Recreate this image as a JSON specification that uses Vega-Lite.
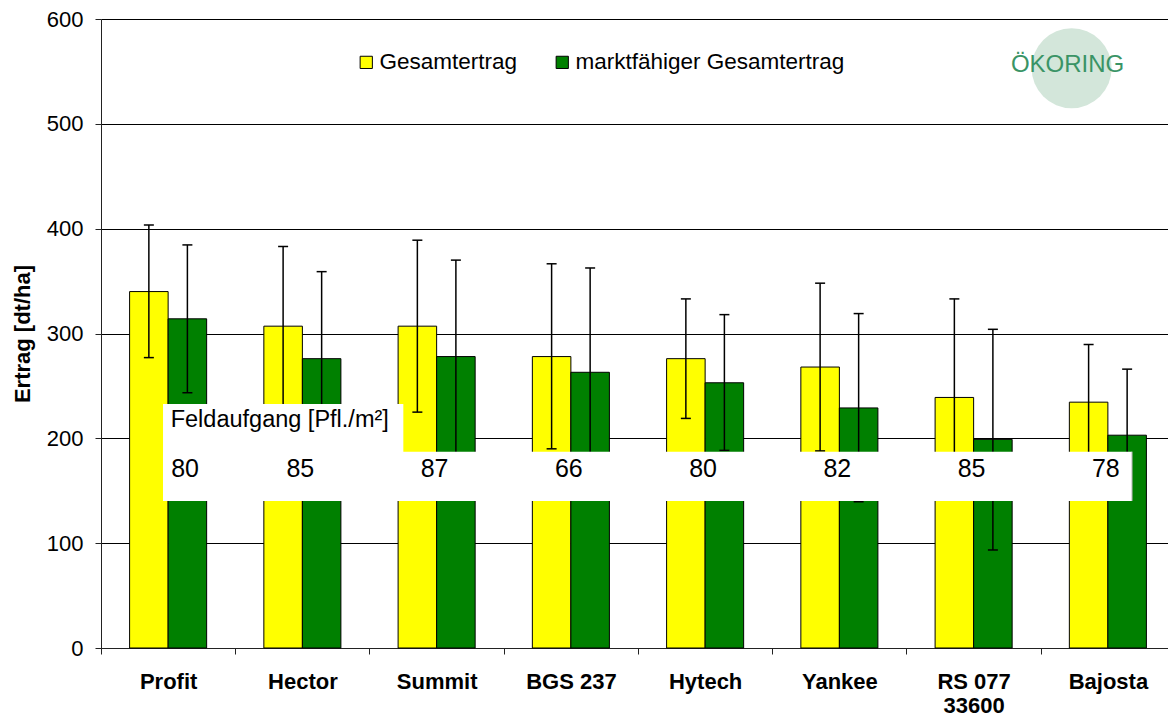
{
  "$schema": "https://vega.github.io/schema/vega-lite/v6.json",
  "autosize": {"type": "none"},
  "padding": {"left": 101, "top": 19, "right": 0, "bottom": 68},
  "width": 1067,
  "height": 629,
  "background": "white",
  "config": {
    "font": "Liberation Sans",
    "view": {"stroke": null},
    "axis": {"labelFont": "Liberation Sans", "titleFont": "Liberation Sans", "labelColor": "black", "titleColor": "black", "domainColor": "#222", "tickColor": "#222"},
    "legend": {"labelFont": "Liberation Sans"}
  },
  "datasets": {
    "ertrag": [
      {"sorte": "Profit", "serie": "Gesamtertrag", "wert": 340, "lo": 277, "hi": 403.5},
      {"sorte": "Profit", "serie": "marktfähiger Gesamtertrag", "wert": 314, "lo": 243.5, "hi": 384.5},
      {"sorte": "Hector", "serie": "Gesamtertrag", "wert": 307, "lo": 231, "hi": 383},
      {"sorte": "Hector", "serie": "marktfähiger Gesamtertrag", "wert": 276, "lo": 193, "hi": 359},
      {"sorte": "Summit", "serie": "Gesamtertrag", "wert": 307, "lo": 225, "hi": 389},
      {"sorte": "Summit", "serie": "marktfähiger Gesamtertrag", "wert": 278, "lo": 186, "hi": 370},
      {"sorte": "BGS 237", "serie": "Gesamtertrag", "wert": 278, "lo": 190, "hi": 366.5},
      {"sorte": "BGS 237", "serie": "marktfähiger Gesamtertrag", "wert": 263, "lo": 163, "hi": 362.5},
      {"sorte": "Hytech", "serie": "Gesamtertrag", "wert": 276, "lo": 219, "hi": 333},
      {"sorte": "Hytech", "serie": "marktfähiger Gesamtertrag", "wert": 253, "lo": 188.5, "hi": 318},
      {"sorte": "Yankee", "serie": "Gesamtertrag", "wert": 268, "lo": 188, "hi": 348},
      {"sorte": "Yankee", "serie": "marktfähiger Gesamtertrag", "wert": 229, "lo": 139.5, "hi": 319},
      {"sorte": "RS 077 33600", "serie": "Gesamtertrag", "wert": 239, "lo": 145, "hi": 333},
      {"sorte": "RS 077 33600", "serie": "marktfähiger Gesamtertrag", "wert": 199, "lo": 93.5, "hi": 304},
      {"sorte": "Bajosta", "serie": "Gesamtertrag", "wert": 234.5, "lo": 179.5, "hi": 289.5},
      {"sorte": "Bajosta", "serie": "marktfähiger Gesamtertrag", "wert": 203, "lo": 141, "hi": 266}
    ],
    "feld": [
      {"sorte": "Profit", "pflanzen": 80},
      {"sorte": "Hector", "pflanzen": 85},
      {"sorte": "Summit", "pflanzen": 87},
      {"sorte": "BGS 237", "pflanzen": 66},
      {"sorte": "Hytech", "pflanzen": 80},
      {"sorte": "Yankee", "pflanzen": 82},
      {"sorte": "RS 077 33600", "pflanzen": 85},
      {"sorte": "Bajosta", "pflanzen": 78}
    ],
    "eins": [{"a": 1}]
  },
  "resolve": {"scale": {"x": "independent"}, "axis": {"x": "independent", "y": "independent"}},
  "layer": [
    {
      "data": {"name": "ertrag"},
      "encoding": {
        "x": {
          "field": "sorte", "type": "nominal",
          "sort": ["Profit", "Hector", "Summit", "BGS 237", "Hytech", "Yankee", "RS 077 33600", "Bajosta"],
          "scale": {"type": "band", "paddingInner": 0.426, "paddingOuter": 0.213, "range": [0, 1074]},
          "axis": {
            "title": null, "labelAngle": 0, "labelFontSize": 22, "labelFontWeight": "bold",
            "tickSize": 6, "labelPadding": 17, "bandPosition": 0, "tickOffset": -28.6, "labelOffset": 28.6,
            "domainColor": "#222", "labelLineHeight": 24,
            "labelExpr": "datum.value === 'RS 077 33600' ? ['RS 077', '33600'] : datum.value"
          }
        },
        "xOffset": {"field": "serie", "type": "nominal", "sort": ["Gesamtertrag", "marktfähiger Gesamtertrag"]}
      },
      "layer": [
        {
          "mark": {"type": "bar", "stroke": "black", "strokeWidth": 1},
          "encoding": {
            "y": {
              "field": "wert", "type": "quantitative",
              "scale": {"domain": [0, 600], "nice": false},
              "axis": {
                "title": "Ertrag [dt/ha]", "titleFontSize": 22, "titleFontWeight": "bold", "titlePadding": 12,
                "values": [0, 100, 200, 300, 400, 500, 600], "labelFontSize": 22, "tickSize": 6, "labelPadding": 12,
                "grid": true, "gridColor": "black", "gridWidth": 1, "domainColor": "#222"
              }
            },
            "color": {
              "field": "serie", "type": "nominal",
              "scale": {"domain": ["Gesamtertrag", "marktfähiger Gesamtertrag"], "range": ["#FFFF00", "#008000"]},
              "legend": {
                "title": null, "orient": "none", "direction": "horizontal", "legendX": 254, "legendY": 32,
                "symbolType": "square", "symbolSize": 150, "symbolStrokeColor": "black", "symbolStrokeWidth": 1,
                "symbolOpacity": 1, "labelFontSize": 22.5, "labelOffset": 2, "columnPadding": 33, "padding": 0,
                "labelColor": "black", "labelLimit": 0
              }
            }
          }
        },
        {
          "mark": {"type": "rule", "color": "black", "strokeWidth": 1.5},
          "encoding": {
            "y": {"field": "lo", "type": "quantitative"},
            "y2": {"field": "hi"}
          }
        },
        {
          "mark": {"type": "tick", "orient": "horizontal", "color": "black", "size": 10, "thickness": 1.5, "opacity": 1},
          "encoding": {"y": {"field": "lo", "type": "quantitative"}}
        },
        {
          "mark": {"type": "tick", "orient": "horizontal", "color": "black", "size": 10, "thickness": 1.5, "opacity": 1},
          "encoding": {"y": {"field": "hi", "type": "quantitative"}}
        }
      ]
    },
    {
      "data": {"name": "eins"},
      "mark": {"type": "rect", "fill": "white"},
      "encoding": {
        "x": {"datum": 0.462, "type": "quantitative", "scale": {"domain": [0, 8], "range": [0, 1074], "nice": false, "zero": false}, "axis": null},
        "x2": {"datum": 2.252},
        "y": {"datum": 140.3, "type": "quantitative", "axis": null},
        "y2": {"datum": 232.8}
      }
    },
    {
      "data": {"name": "eins"},
      "mark": {"type": "rect", "fill": "white"},
      "encoding": {
        "x": {"datum": 0.462, "type": "quantitative", "scale": {"domain": [0, 8], "range": [0, 1074], "nice": false, "zero": false}, "axis": null},
        "x2": {"datum": 7.68},
        "y": {"datum": 140.3, "type": "quantitative", "axis": null},
        "y2": {"datum": 187.3}
      }
    },
    {
      "data": {"name": "eins"},
      "mark": {"type": "rule", "color": "#b0b0b0", "strokeWidth": 1},
      "encoding": {
        "x": {"datum": 7.68, "type": "quantitative", "scale": {"domain": [0, 8], "range": [0, 1074], "nice": false, "zero": false}, "axis": null},
        "y": {"datum": 140.3, "type": "quantitative", "axis": null},
        "y2": {"datum": 187.3}
      }
    },
    {
      "data": {"name": "eins"},
      "mark": {"type": "text", "text": "Feldaufgang [Pfl./m²]", "align": "left", "baseline": "alphabetic", "fontSize": 23.5, "color": "black"},
      "encoding": {
        "x": {"datum": 0.519, "type": "quantitative", "scale": {"domain": [0, 8], "range": [0, 1074], "nice": false, "zero": false}, "axis": null},
        "y": {"datum": 210.6, "type": "quantitative", "axis": null}
      }
    },
    {
      "data": {"name": "feld"},
      "transform": [{"filter": "datum.sorte !== 'Profit'"}],
      "mark": {"type": "text", "align": "center", "baseline": "alphabetic", "fontSize": 25, "color": "black", "dx": -2},
      "encoding": {
        "x": {
          "field": "sorte", "type": "nominal",
          "scale": {"type": "band", "domain": ["Profit", "Hector", "Summit", "BGS 237", "Hytech", "Yankee", "RS 077 33600", "Bajosta"], "paddingInner": 0.426, "paddingOuter": 0.213, "range": [0, 1074]},
          "axis": null
        },
        "y": {"datum": 163.5, "type": "quantitative", "axis": null},
        "text": {"field": "pflanzen", "type": "quantitative"}
      }
    },
    {
      "data": {"name": "feld"},
      "transform": [{"filter": "datum.sorte === 'Profit'"}],
      "mark": {"type": "text", "align": "center", "baseline": "alphabetic", "fontSize": 25, "color": "black", "dx": 17},
      "encoding": {
        "x": {
          "field": "sorte", "type": "nominal",
          "scale": {"type": "band", "domain": ["Profit", "Hector", "Summit", "BGS 237", "Hytech", "Yankee", "RS 077 33600", "Bajosta"], "paddingInner": 0.426, "paddingOuter": 0.213, "range": [0, 1074]},
          "axis": null
        },
        "y": {"datum": 163.5, "type": "quantitative", "axis": null},
        "text": {"field": "pflanzen", "type": "quantitative"}
      }
    },
    {
      "data": {"name": "eins"},
      "mark": {"type": "point", "shape": "circle", "filled": true, "fill": "#d3e6da", "opacity": 1, "size": 6400, "strokeWidth": 0},
      "encoding": {
        "x": {"datum": 7.23, "type": "quantitative", "scale": {"domain": [0, 8], "range": [0, 1074], "nice": false, "zero": false}, "axis": null},
        "y": {"datum": 553, "type": "quantitative", "axis": null}
      }
    },
    {
      "data": {"name": "eins"},
      "mark": {"type": "text", "text": "ÖKORING", "align": "center", "baseline": "middle", "fontSize": 24, "fontWeight": "normal", "color": "#3a9466"},
      "encoding": {
        "x": {"datum": 7.2, "type": "quantitative", "scale": {"domain": [0, 8], "range": [0, 1074], "nice": false, "zero": false}, "axis": null},
        "y": {"datum": 556, "type": "quantitative", "axis": null}
      }
    }
  ]
}
